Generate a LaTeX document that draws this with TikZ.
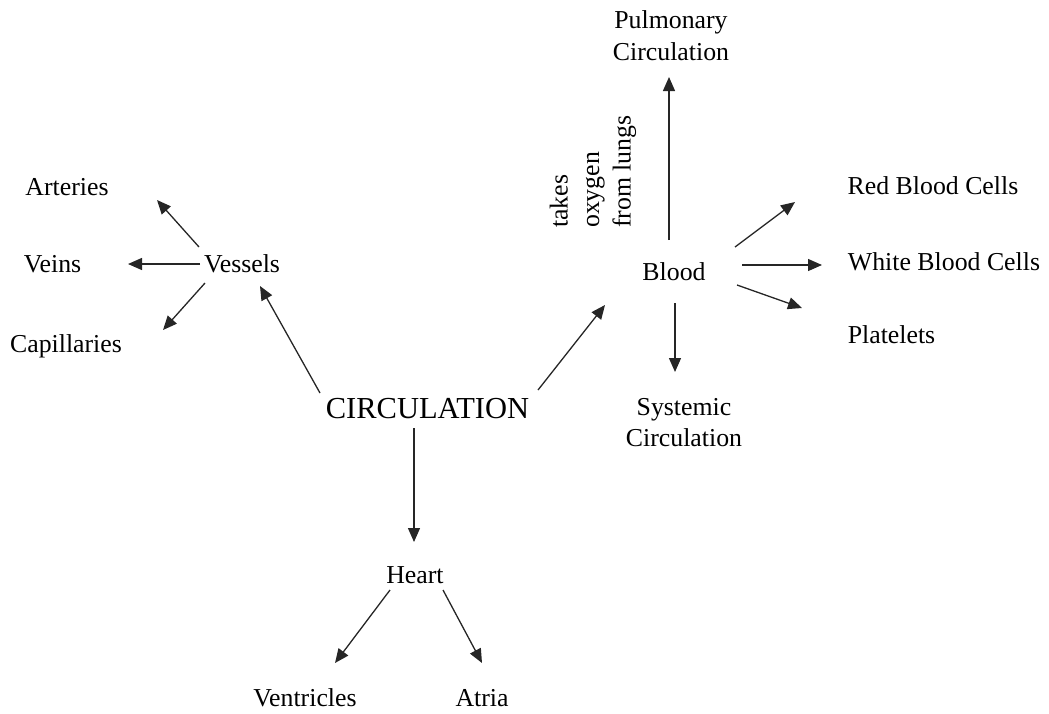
\documentclass[tikz,border=0pt]{standalone}
\usepackage{fontspec}
\setmainfont{Liberation Serif}
\usetikzlibrary{arrows.meta}
\begin{document}
\begin{tikzpicture}[x=1pt,y=-1pt,
  label/.style={font=\fontsize{25.8}{31}\selectfont, inner sep=0pt, anchor=base},
  title/.style={font=\fontsize{30.5}{34}\selectfont, inner sep=0pt, anchor=base},
  multi/.style={font=\fontsize{25.8}{31.5}\selectfont, inner sep=0pt, align=center, anchor=north},
  link/.style={line width=1.3pt, draw=black!85, -{Triangle[length=14pt,width=12pt]}}]
\useasboundingbox (0,0) rectangle (1049,713);

% concepts
\node[title] (circ) at (427.5,418) {CIRCULATION};
\node[label] (vessels) at (242,272) {Vessels};
\node[label] (arteries) at (67,195) {Arteries};
\node[label] (veins) at (52.5,272) {Veins};
\node[label] (capillaries) at (66,352) {Capillaries};
\node[label] (heart) at (415,583) {Heart};
\node[label] (ventricles) at (305,706) {Ventricles};
\node[label] (atria) at (482,706) {Atria};
\node[label] (blood) at (674,280) {Blood};
\node[label] (red) at (933,194) {Red Blood Cells};
\node[label] (white) at (944,270) {White Blood Cells};
\node[label] (platelets) at (891.5,343) {Platelets};
\node[multi] (pulmonary) at (671,10.6) {Pulmonary\\Circulation};
\node[multi] (systemic) at (684,397.8) {Systemic\\Circulation};
\node[font=\fontsize{25.8}{31.5}\selectfont, inner sep=0pt, align=left,
      rotate=90, anchor=north west] (oxygen) at (549.6,228) {takes\\oxygen\\from lungs};

% connector ends
\coordinate (c-v) at (320,393);   \coordinate (v-in) at (260,286);
\coordinate (c-b) at (538,390);   \coordinate (b-in) at (605,305);
\coordinate (c-h) at (414,428);   \coordinate (h-in) at (414,542);
\coordinate (v-a) at (199,247);   \coordinate (a-in) at (157,200);
\coordinate (v-v) at (200,264);   \coordinate (ve-in) at (128,264);
\coordinate (v-c) at (205,283);   \coordinate (ca-in) at (163,330);
\coordinate (h-v) at (390,590);   \coordinate (vn-in) at (335,663);
\coordinate (h-a) at (443,590);   \coordinate (at-in) at (482,663);
\coordinate (b-p) at (669,240);   \coordinate (p-in) at (669,77);
\coordinate (b-s) at (675,303);   \coordinate (s-in) at (675,372);
\coordinate (b-r) at (735,247);   \coordinate (r-in) at (795,202);
\coordinate (b-w) at (742,265);   \coordinate (w-in) at (822,265);
\coordinate (b-pl) at (737,285);  \coordinate (pl-in) at (802,308);

% connectors
\draw[link] (c-v) -- (v-in);
\draw[link] (c-b) -- (b-in);
\draw[link] (c-h) -- (h-in);
\draw[link] (v-a) -- (a-in);
\draw[link] (v-v) -- (ve-in);
\draw[link] (v-c) -- (ca-in);
\draw[link] (h-v) -- (vn-in);
\draw[link] (h-a) -- (at-in);
\draw[link] (b-p) -- (p-in);
\draw[link] (b-s) -- (s-in);
\draw[link] (b-r) -- (r-in);
\draw[link] (b-w) -- (w-in);
\draw[link] (b-pl) -- (pl-in);
\end{tikzpicture}
\end{document}
